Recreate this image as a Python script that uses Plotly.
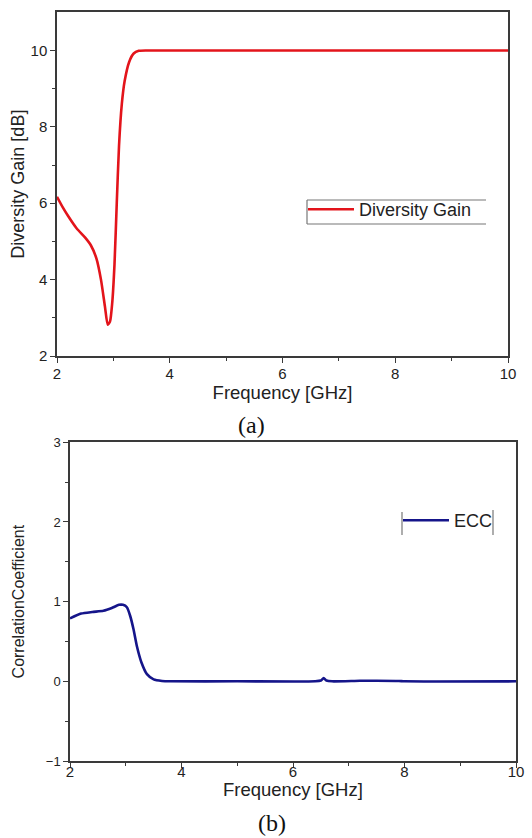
import plotly.graph_objects as go

# ---- data ----
freq_dg = [2.0, 2.1, 2.2, 2.35, 2.5, 2.6, 2.7, 2.78, 2.85, 2.9, 2.94, 2.98, 3.02, 3.06,
           3.1, 3.15, 3.2, 3.28, 3.36, 3.45, 3.6, 4.0, 5.0, 6.0, 7.0, 8.0, 9.0, 10.0]
diversity_gain = [6.17, 5.9, 5.66, 5.34, 5.1, 4.9, 4.55, 4.0, 3.3, 2.82, 2.9, 3.4, 4.4, 6.0,
                  7.5, 8.6, 9.2, 9.7, 9.92, 9.99, 10.0, 10.0, 10.0, 10.0, 10.0, 10.0, 10.0, 10.0]

freq_ecc = [2.0, 2.2, 2.4, 2.6, 2.75, 2.88, 2.95, 3.02, 3.08, 3.14, 3.2, 3.28, 3.38, 3.5,
            3.65, 3.8, 5.0, 6.4, 6.5, 6.55, 6.6, 6.7, 7.2, 7.5, 7.9, 8.0, 10.0]
ecc = [0.79, 0.85, 0.87, 0.885, 0.92, 0.96, 0.96, 0.93, 0.82, 0.65, 0.44, 0.24, 0.09, 0.025,
       0.005, 0.0, 0.0, 0.0, 0.01, 0.04, 0.01, 0.0, 0.007, 0.008, 0.005, 0.0, 0.0]

x_ticks = [2, 4, 6, 8, 10]
dg_ticks = [2, 4, 6, 8, 10]
ecc_ticks = [-1, 0, 1, 2, 3]

W, H = 532, 838
def px_x(v): return v / W
def px_y(v): return 1 - v / H

FONT = "Liberation Sans, Arial, sans-serif"
SERIF = "Liberation Serif, Times New Roman, serif"
AXC = "#3a3a3a"

fig = go.Figure()
fig.add_trace(go.Scatter(x=freq_dg, y=diversity_gain, mode="lines", name="Diversity Gain",
                         line=dict(color="#e3141b", width=2.6, shape="spline", smoothing=0.6),
                         xaxis="x", yaxis="y", legend="legend"))
fig.add_trace(go.Scatter(x=freq_ecc, y=ecc, mode="lines", name="ECC",
                         line=dict(color="#15158a", width=2.6, shape="spline", smoothing=0.6),
                         xaxis="x2", yaxis="y2", legend="legend2"))

common_ax = dict(showline=True, linecolor=AXC, linewidth=1.5, mirror=True, ticks="outside",
                 tickcolor=AXC, tickwidth=1.2, ticklen=5, showgrid=False, zeroline=False,
                 automargin=False, tickfont=dict(family=FONT, size=15, color="#222"))
minor_x = dict(tickvals=[3, 5, 7, 9], ticks="outside", ticklen=3, tickcolor=AXC, tickwidth=1.2)

fig.update_layout(
    width=W, height=H, margin=dict(l=0, r=0, t=0, b=0),
    paper_bgcolor="white", plot_bgcolor="white",
    font=dict(family=FONT, color="#222"),
    xaxis=dict(common_ax, domain=[px_x(57), px_x(508)], anchor="y", range=[2, 10],
               tickvals=x_ticks, minor=minor_x, ticklabelstandoff=-2,
               title=dict(text="Frequency [GHz]", font=dict(size=18.5, family=FONT), standoff=4)),
    yaxis=dict(common_ax, domain=[px_y(356), px_y(12.3)], anchor="x", range=[2, 11],
               tickvals=dg_ticks, minor=minor_x,
               title=dict(text="Diversity Gain [dB]", font=dict(size=18, family=FONT), standoff=1)),
    xaxis2=dict(common_ax, domain=[px_x(70), px_x(516)], anchor="y2", range=[2, 10],
                tickvals=x_ticks, minor=minor_x, ticklabelstandoff=-9),
    yaxis2=dict(common_ax, domain=[px_y(761), px_y(442.3)], anchor="x2", range=[-1, 3],
                tickvals=ecc_ticks, tickfont=dict(family=FONT, size=13, color="#222"),
                minor=dict(tickvals=[-0.5, 0.5, 1.5, 2.5], ticks="outside", ticklen=3,
                           tickcolor=AXC, tickwidth=1.2),
                title=dict(text="CorrelationCoefficient", font=dict(size=16, family=FONT), standoff=17)),
    legend=dict(x=px_x(303), y=px_y(191), xanchor="left", yanchor="top", itemwidth=46,
                bgcolor="rgba(0,0,0,0)", borderwidth=0,
                font=dict(family=FONT, size=18, color="#222")),
    legend2=dict(x=px_x(398), y=px_y(502), xanchor="left", yanchor="top", itemwidth=46,
                 bgcolor="rgba(0,0,0,0)", borderwidth=0,
                 font=dict(family=FONT, size=18, color="#222")),
    showlegend=True,
)

ann = dict(xref="paper", yref="paper", showarrow=False, xanchor="center", yanchor="middle")
# bottom x-axis title (placed as in the reference, closer to the axis than plotly allows)
fig.add_annotation(ann, text="Frequency [GHz]", x=px_x(293), y=px_y(789),
                   font=dict(family=FONT, size=18.5, color="#222"))

# legend frame pieces (as in the reference)
frame = dict(type="line", xref="paper", yref="paper", line=dict(color="#777", width=1.2))
fig.add_shape(frame, x0=px_x(307), x1=px_x(486), y0=px_y(200), y1=px_y(200))
fig.add_shape(frame, x0=px_x(307), x1=px_x(486), y0=px_y(224), y1=px_y(224))
fig.add_shape(frame, x0=px_x(307), x1=px_x(307), y0=px_y(200), y1=px_y(224))
fig.add_shape(frame, x0=px_x(402), x1=px_x(402), y0=px_y(512), y1=px_y(535))
fig.add_shape(frame, x0=px_x(493), x1=px_x(493), y0=px_y(510), y1=px_y(535))

fig.add_annotation(ann, text="(a)", x=px_x(251), y=px_y(425),
                   font=dict(family=SERIF, size=24, color="#111"))
fig.add_annotation(ann, text="(b)", x=px_x(272), y=px_y(823),
                   font=dict(family=SERIF, size=24, color="#111"))

fig.write_html("out.html")
